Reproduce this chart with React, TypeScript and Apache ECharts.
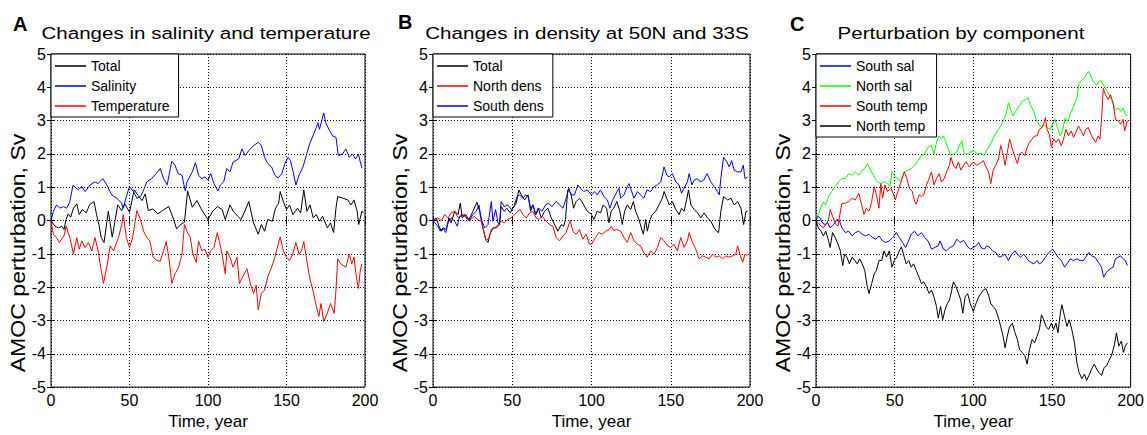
import React, { useEffect, useRef } from "react";
import * as echarts from "echarts";

type Pt = [number, number];

// ---------- Panel A: Changes in salinity and temperature ----------
const aTotal: Pt[] = [[0,0],[2.5,-0.17],[4.7,-0.22],[6.8,-0.17],[8.3,-0.27],[9.6,0.03],[11,0.2],[12.5,0.1],[14.3,0.37],[16.4,0.5],[18,0.18],[20,0.33],[22.5,0.23],[24.5,0.47],[27.4,0.57],[29,0.18],[30.5,-0.12],[32,-0.51],[33.8,-0.66],[36.5,0.28],[39,-0.5],[42.5,0.47],[45,0.3],[47,0.5],[50,0.25],[53,0.92],[56,0.72],[58,0.6],[60,0.8],[62,0.3],[65,0.35],[68,0.2],[71,0.3],[75,0.42],[78,0.05],[80,-0.25],[83,-0.1],[85,-0.05],[87,0.89],[90,0.4],[93,0.6],[95.4,0.37],[100,0.03],[103,0.28],[106,0.42],[109,0.33],[111,0.03],[114,0.47],[116,0.28],[121,0.03],[123,0.23],[126,0.57],[129,-0.07],[132,-0.41],[134,-0.12],[136,-0.32],[138,0.03],[141,-0.02],[143,0.37],[145,0.52],[146,0.87],[148,0.57],[150,0.33],[152,0.47],[154,0.18],[157,0.37],[159,0.23],[161,0.92],[163,0.28],[165,0.47],[167,0.08],[169,0.18],[171,-0.02],[173,0.13],[176,-0.22],[178,-0.07],[180,-0.36],[181.5,0.37],[182.6,0.72],[186,0.67],[189,0.62],[191,0.47],[193,0.62],[195,0.28],[196,-0.12],[198,0.28],[199,0.23]];
const aSalinity: Pt[] = [[0,0],[1.5,0.28],[3.6,0.47],[5.7,0.37],[7.9,0.42],[10,0.37],[12,0.57],[14,1.06],[17.4,0.92],[19.6,1.02],[21.7,0.87],[25,1.07],[28,1.16],[30,1.11],[33,1.26],[35.5,1.07],[38.7,0.77],[42,0.67],[45,0.52],[46,0.37],[48,0.72],[50,1.02],[52.5,0.87],[54.7,0.67],[57,0.72],[59,0.92],[61,1.16],[64,1.26],[67,1.41],[69.6,1.56],[71.7,1.26],[74,1.07],[76,1.56],[77,1.78],[79,1.66],[81,1.41],[83.4,1.36],[85.5,0.89],[86.6,1.16],[90,1.46],[92,1.74],[94,1.36],[96,1.26],[98,1.31],[100,1.21],[101.7,1.41],[103.8,1.11],[106.3,0.89],[108,1.07],[110,1.16],[112,1.56],[114,1.46],[116,1.76],[119.5,1.85],[121.6,2.15],[123.7,1.95],[126,2.1],[129,2.25],[132,2.35],[134,2.25],[136,1.9],[138,1.71],[140.5,1.61],[142.6,1.36],[144.7,1.28],[147,1.41],[149,1.71],[151,1.9],[152.5,1.8],[154,1.51],[156,1.07],[158,1.36],[160.5,1.61],[162.6,1.95],[164.7,2.3],[166.8,2.54],[169,2.79],[170,2.94],[171,2.74],[172.7,3.04],[173.7,3.23],[175,2.94],[177,2.74],[179.4,2.54],[181.5,2.5],[183,1.95],[185.7,2.0],[187.8,2.15],[190,1.9],[192,2.0],[194,1.85],[195.8,2.0],[197,1.76],[198,1.58]];
const aTemperature: Pt[] = [[0,0],[1.5,-0.41],[3.6,-0.51],[5.3,-0.66],[6.8,-0.56],[8.3,-0.46],[9.6,-0.17],[12,-0.51],[14.3,-1.01],[16.4,-0.51],[18,-0.86],[19.6,-0.61],[21.7,-0.81],[23.8,-0.66],[26,-0.91],[28,-0.51],[30,-0.91],[32,-1.5],[33.4,-1.89],[35.5,-1.4],[37.7,-0.76],[39.8,-0.91],[43,-0.51],[45,-0.12],[46,0.18],[48,-0.51],[50,-0.81],[52,-0.51],[54.7,0.3],[57,0.03],[59,-0.32],[61,-0.51],[63,-0.61],[65,-1.1],[67.4,-1.2],[69.6,-1.22],[71.7,-0.91],[73.4,-0.63],[75,-1.1],[77,-1.89],[79,-1.6],[81.3,-1.4],[83.4,-1.01],[85,-0.12],[86.6,-0.32],[88.7,-0.51],[90.4,-1.01],[92.5,-1.25],[94,-0.61],[96,-0.91],[98,-0.86],[100,-1.1],[101.7,-0.91],[103.8,-0.81],[105.9,-0.36],[107.6,-0.71],[109,-1.01],[111,-1.6],[112,-0.91],[114,-1.1],[116,-1.4],[118.5,-1.1],[120,-1.89],[122,-1.7],[124.8,-1.45],[127,-1.89],[129,-2.19],[130.7,-1.94],[132,-2.68],[134,-2.19],[136,-2.09],[138,-1.7],[140.5,-1.4],[142.6,-1.1],[144.7,-0.71],[146,-0.49],[148,-0.91],[150,-1.1],[152,-1.2],[154,-1.01],[156,-0.66],[158,-1.01],[159.5,-0.91],[161,-0.63],[162.6,-1.1],[164.7,-1.7],[166.8,-2.09],[169,-2.58],[170.6,-2.88],[172,-2.49],[173.7,-3.03],[176,-2.78],[178,-2.49],[180.4,-2.78],[181.5,-2.09],[182.6,-1.15],[184.7,-1.3],[187.8,-1.4],[190,-1.01],[191.6,-1.3],[193,-1.1],[194.5,-1.7],[195.8,-2.04],[197,-1.5],[198,-1.3]];

// ---------- Panel B: Changes in density at 50N and 33S ----------
const bTotal: Pt[] = [[0,0],[2,0.08],[3.8,-0.17],[5.3,-0.32],[6.7,-0.22],[8.4,-0.27],[10,0.08],[11.5,-0.07],[13.7,0.28],[15.8,0.18],[17.2,0.52],[18.5,0.08],[20.6,0.18],[22.7,0.03],[25.2,0.28],[27.7,0.55],[29.4,0.28],[31,-0.12],[33.2,-0.56],[34.7,-0.66],[36,-0.41],[37.8,-0.22],[40,-0.22],[42,-0.12],[43,0.42],[45,0.28],[46.6,0.37],[48.7,0.23],[50.4,0.37],[52.5,0.52],[54.2,0.92],[55.7,0.77],[57.8,0.62],[60,0.77],[61.6,0.28],[63,0.47],[64.7,0.18],[66.4,0.37],[68.3,0.08],[70.4,0.28],[72.5,0.37],[74.6,0.08],[76.7,-0.12],[78.8,-0.32],[80.9,-0.12],[82.4,-0.17],[83.6,0.03],[85,0.92],[87,0.82],[88.7,0.37],[90.3,0.57],[92.4,0.67],[93.5,0.6],[95.1,0.47],[97.3,0.28],[100,0.18],[101.5,0.03],[103.6,0.28],[105.7,0.23],[107.4,0.47],[109.5,0.37],[111,-0.07],[112.4,0.28],[114,0.37],[116,0.57],[117.9,0.28],[119.4,-0.12],[120.9,0.28],[122.6,0.47],[124.7,0.33],[126.4,0.57],[127.8,0.28],[130,0.03],[131.4,-0.22],[132.7,-0.41],[134.2,0.03],[135.2,-0.32],[136.9,0.03],[138.4,0.18],[140.5,0.28],[142.6,0.47],[144.7,0.67],[145.8,0.87],[147.5,0.67],[149,0.47],[151,0.57],[153.2,0.33],[155.3,0.18],[156.8,0.37],[158.4,0.28],[160,0.62],[161.2,0.92],[162.7,0.47],[164.8,0.33],[166.9,0.23],[169,0.08],[171,0.23],[173.2,0.08],[175.3,-0.02],[177.4,-0.22],[179,-0.32],[180.2,-0.36],[181.6,0.28],[183.3,0.72],[185.9,0.62],[188,0.67],[190,0.47],[192.2,0.57],[194.3,0.37],[196,-0.12],[197.5,0.28],[198.5,0.28]];
const bNorthDens: Pt[] = [[0,0],[3,0.08],[5.3,0],[7.4,0.18],[9.5,0.08],[11.5,0.23],[13.7,0.28],[15.8,0.08],[17.9,0.13],[20,0.18],[22,0.03],[24,0.03],[26,0.13],[28,0.03],[30.5,-0.02],[32,-0.32],[33.6,-0.61],[35.3,-0.51],[36.8,-0.27],[38.9,-0.22],[41,-0.12],[43,-0.02],[45,-0.07],[47,0.03],[49.4,0.08],[51.5,0.18],[53.6,0.28],[55,0.33],[56.7,0.18],[58.8,0.08],[61,0.23],[63,0.28],[65,0.08],[67,0.03],[69,0.13],[71.4,-0.02],[73.5,-0.12],[75.6,-0.17],[77.7,-0.51],[79.8,-0.61],[82,-0.46],[84,-0.36],[86.6,0],[88.2,-0.32],[90.3,-0.41],[92.4,-0.27],[94.5,-0.56],[96.6,-0.41],[98.7,-0.71],[100,-0.71],[102.5,-0.51],[104.6,-0.36],[106.8,-0.41],[108.9,-0.32],[111,-0.27],[112.4,-0.17],[114,-0.3],[116,-0.27],[118.4,-0.32],[120.5,-0.51],[122.6,-0.66],[124.7,-0.36],[126.8,-0.61],[129,-0.71],[131,-0.76],[133,-0.96],[135.2,-1.1],[137.3,-0.91],[139.5,-1.01],[141.6,-0.81],[143.7,-0.51],[145.8,-0.61],[148,-0.76],[150,-0.81],[152,-0.71],[154.2,-0.91],[156.3,-0.51],[158.4,-0.81],[160.5,-0.61],[161.6,-0.36],[163.7,-0.66],[165.8,-0.86],[167.9,-1.15],[170,-1.06],[172,-1.1],[174.3,-1.15],[176.4,-1.01],[178.5,-1.1],[180.6,-1.06],[182.7,-1.15],[184.8,-1.06],[186.9,-1.1],[189,-1.06],[191,-1.01],[192.2,-0.76],[193.9,-1.06],[195.4,-1.25],[196.8,-1.01],[198.5,-1.06]];
const bSouthDens: Pt[] = [[0,0],[3,-0.17],[4.6,-0.32],[6.3,-0.22],[8,-0.36],[9.5,-0.07],[11.5,0.08],[13.7,-0.02],[15.3,-0.17],[16.8,0.13],[19,0.18],[21,0.08],[23,-0.02],[25,0.18],[27.3,0.28],[29,0.47],[30.5,0.03],[32.6,-0.22],[34.7,-0.12],[36.8,0.57],[37.8,-0.02],[39.5,0.33],[41,-0.07],[42,-0.12],[43,0.57],[45,0.42],[47,0.47],[49.4,0.33],[51,0.42],[53,0.72],[54.6,0.77],[56.7,0.67],[58.4,0.77],[60,0.72],[61.6,0.37],[63,0.47],[65,0.18],[66.8,0.37],[68.9,0.28],[71,0.47],[73,0.52],[75,0.42],[77.7,0.57],[79.8,0.47],[82,0.37],[84,0.67],[85.7,0.97],[87,0.77],[89.3,0.77],[91.4,1.07],[93,0.97],[95.1,0.87],[97.3,0.92],[100,0.77],[101.9,0.87],[103.6,0.77],[105.7,0.92],[107.8,0.72],[110,0.62],[111.6,0.37],[113,0.57],[115,0.77],[117.3,0.97],[118.4,0.67],[120.5,0.77],[122.6,1.02],[123.6,1.11],[125,0.92],[126.8,0.67],[129,0.87],[131,0.77],[133,0.67],[135,0.92],[137.3,0.87],[139.5,1.02],[141.5,1.07],[143.7,1.16],[145.8,1.61],[147.5,1.36],[149,1.31],[151,1.41],[153.2,1.16],[155.3,1.07],[156.8,0.82],[158.4,0.97],[160.5,1.16],[161.6,1.41],[163.3,1.07],[164.8,1.21],[166.9,1.26],[168.6,1.16],[170.7,1.21],[173,1.41],[175.3,1.16],[177.4,1.02],[179.5,0.87],[180.6,0.77],[181.6,1.26],[183.3,1.9],[185.4,1.76],[186.9,1.61],[188.4,1.8],[190,1.51],[192.2,1.46],[194.3,1.46],[195.8,1.66],[196.8,1.26],[198.5,1.31]];

// ---------- Panel C: Perturbation by component ----------
const cSouthSal: Pt[] = [[0,0],[1.2,0.13],[2.6,0.08],[4,-0.07],[5.8,-0.12],[7.5,-0.07],[9,-0.22],[11.2,-0.12],[13.3,0.03],[14.8,0],[16.5,-0.22],[18.7,-0.36],[20.8,-0.32],[23,-0.46],[25,-0.36],[27.2,-0.32],[29.4,-0.41],[31.5,-0.46],[33.7,-0.41],[35.8,-0.51],[38,-0.56],[40,-0.46],[42.3,-0.61],[44.4,-0.66],[46.6,-0.61],[48.7,-0.51],[50.9,-0.36],[53,-0.51],[55,-0.66],[56.9,-0.81],[58.4,-0.66],[60.5,-0.41],[62.7,-0.32],[64.8,-0.46],[67,-0.36],[69,-0.51],[71.2,-0.61],[73.4,-0.86],[75.5,-0.81],[77.7,-0.76],[78.8,-0.61],[81,-0.86],[83,-0.91],[85.2,-0.81],[87.3,-0.76],[89.5,-0.56],[91.6,-0.66],[93.8,-0.59],[96,-0.76],[98,-0.86],[100,-0.81],[101.7,-0.76],[103.4,-0.66],[104.8,-0.81],[107,-0.86],[108.4,-0.76],[110.5,-0.81],[112.2,-0.91],[114.3,-0.96],[116.4,-1.1],[118.5,-1.06],[120.2,-1.01],[122.3,-1.2],[124.4,-1.01],[126.5,-0.91],[128,-1.01],[130,-1.1],[132.1,-1.01],[134.2,-1.15],[136.3,-1.25],[138.4,-1.3],[140.5,-1.2],[142,-1.3],[143.7,-1.25],[145.8,-1.1],[147.9,-0.96],[150.4,-0.86],[152,-0.96],[153.8,-1.1],[155.9,-1.2],[158,-1.4],[159.5,-1.3],[161.6,-1.15],[163.7,-1.2],[165.8,-1.15],[167.9,-1.2],[170,-1.2],[172,-1.06],[173.5,-0.96],[175.2,-1.06],[177.3,-1.1],[179.4,-1.25],[181.5,-1.4],[182.8,-1.7],[184.7,-1.55],[186.8,-1.45],[188.9,-1.4],[190.3,-1.15],[192,-1.1],[193.7,-1.06],[195.2,-1.15],[196.6,-1.2],[197.9,-1.35]];
const cNorthSal: Pt[] = [[0,0.08],[1.5,0.18],[2.6,0.33],[4.7,0.57],[6.2,0.47],[8,0.72],[10,0.87],[12.2,1.02],[14.4,1.16],[16.5,1.26],[18.7,1.26],[20.8,1.41],[23,1.36],[25,1.46],[27.2,1.36],[29.4,1.51],[31,1.56],[32.6,1.71],[34.8,1.51],[37,1.31],[39,1.16],[41.2,1.11],[43.3,1.16],[45.5,1.11],[47,1.02],[48.3,1.46],[49.8,1.36],[52,1.26],[54,1.16],[56,1.46],[58.4,1.51],[60.5,1.56],[62.7,1.66],[64.8,1.8],[67,1.95],[69,2.0],[71.2,2.2],[73.4,2.25],[75,2.0],[76.6,2.35],[78.3,2.54],[79.8,2.45],[81,2.54],[82.6,2.35],[84,2.15],[85.6,1.95],[87.3,2.0],[89.5,2.05],[91.2,2.25],[92.7,2.4],[94.2,2.0],[96,2.0],[98,2.05],[100,2.1],[102.7,2.0],[104.8,2.02],[107,1.95],[109,2.15],[111,2.3],[113.2,2.54],[115.3,2.69],[117.4,2.84],[119.5,3.04],[121,3.23],[122.3,3.53],[123.7,3.33],[125.2,3.14],[126.9,3.28],[129,3.43],[131,3.58],[133.2,3.63],[134.9,3.68],[136.3,3.48],[138.4,3.28],[139.9,3.04],[141.6,2.89],[143.3,2.79],[144.7,2.89],[146.8,2.79],[148.9,2.74],[150.4,2.89],[152,3.04],[153.8,2.74],[155.3,2.54],[156.7,2.69],[158.4,3.09],[160,2.99],[161.6,3.19],[163.7,3.43],[165.8,3.68],[167.2,4.12],[169,4.22],[170.6,4.27],[172,4.42],[173.5,4.47],[174.8,4.32],[176.3,4.17],[178.4,4.07],[179.8,4.17],[181,4.22],[182.6,4.07],[184,3.97],[185.7,3.83],[187.4,3.68],[188.9,3.48],[190.3,3.33],[192,3.38],[193.7,3.28],[195.2,3.38],[196.2,3.23],[197.9,3.14]];
const cSouthTemp: Pt[] = [[0,0],[1.5,-0.07],[3.2,-0.17],[4.7,-0.22],[6.2,-0.12],[8,0.03],[9,0.33],[10.5,0.13],[12.2,-0.07],[14,-0.17],[15.5,0.28],[16.5,0.52],[18.7,0.52],[20.8,0.57],[23,0.67],[25,0.62],[27.2,0.82],[29,0.47],[30.5,0.18],[32,0.37],[33.7,0.28],[35.4,0.57],[37,1.02],[38.4,0.77],[40,0.37],[41.2,1.11],[42.3,0.67],[43.8,1.07],[45.5,0.87],[47.6,0.97],[49,0.82],[50.4,0.62],[52,0.87],[54,1.16],[56.2,1.46],[57.7,1.26],[59.4,0.97],[61.2,0.87],[62.7,0.57],[63.7,0.49],[65.5,0.77],[67,0.72],[68.5,0.77],[70.2,1.07],[71.9,1.26],[73.4,1.46],[75,1.07],[76.6,1.26],[78.3,1.41],[79.8,1.16],[81.5,1.26],[83,1.46],[84.8,1.66],[85.8,1.9],[87.3,1.66],[89,1.56],[90.6,1.76],[92,1.51],[93.8,1.66],[95.4,1.76],[97.5,1.61],[100,1.76],[102,1.66],[104.2,1.71],[106.3,1.8],[108,1.61],[109.7,1.46],[111.1,1.11],[112.6,1.51],[114.3,1.66],[116,1.85],[117.4,2.25],[118.9,2.0],[120.2,1.66],[121.6,2.05],[123.1,2.45],[124.8,2.15],[126.5,1.9],[128,1.71],[129.4,2.0],[131,2.05],[132.8,1.95],[134.2,2.2],[135.7,2.35],[137.4,2.45],[139,2.54],[140.5,2.54],[142,2.74],[143.7,2.79],[145,2.94],[145.8,3.09],[146.8,2.74],[148.3,2.59],[149.6,2.2],[151,2.45],[152.5,2.35],[154.2,2.45],[155.9,2.25],[157.4,2.45],[158.8,2.74],[160.5,2.54],[162.2,2.69],[163.7,2.5],[165.1,2.64],[166.8,2.84],[168.5,2.69],[170,2.54],[171.4,2.74],[173.1,2.79],[174.8,2.59],[176.3,2.45],[177.7,2.35],[179.4,2.54],[180.5,2.45],[181.5,3.04],[182.6,3.97],[184,3.78],[185.7,3.63],[187.2,3.78],[188.9,3.53],[190.3,3.04],[192,2.99],[193.7,2.89],[195.2,3.04],[196.2,2.69],[197.9,2.99]];
const cNorthTemp: Pt[] = [[0,0],[1.5,-0.22],[3.2,-0.32],[4.7,-0.46],[6.2,-0.32],[8,-0.61],[9,-0.81],[10.5,-0.36],[12.2,-0.51],[14,-0.71],[15.5,-0.91],[17,-1.35],[18.2,-1.01],[19.7,-1.1],[21.2,-1.3],[23,-1.1],[24.7,-1.2],[26.2,-1.3],[27.7,-1.15],[29.4,-1.3],[31,-1.5],[32.6,-1.99],[33.7,-2.19],[35.4,-1.89],[37,-1.6],[38.4,-1.5],[40,-1.2],[41.8,-1.2],[43.3,-0.91],[44.8,-1.1],[46.6,-0.91],[48.3,-1.4],[49.8,-1.2],[51.3,-1.1],[53,-0.91],[54.3,-0.79],[55.6,-1.01],[57.3,-1.3],[59,-1.2],[60.5,-1.4],[62,-1.3],[63.7,-1.5],[65.5,-1.7],[67,-1.89],[68.5,-1.84],[70.2,-1.99],[71.9,-2.19],[73.4,-2.09],[75,-2.29],[76.6,-2.58],[77.7,-2.93],[79.2,-2.58],[80.5,-2.98],[82,-2.68],[83.5,-2.49],[84.8,-2.39],[86.3,-2.09],[87.3,-1.84],[89,-1.99],[90.6,-2.19],[92,-2.39],[93.3,-2.78],[94.8,-2.29],[96.4,-2.19],[98,-2.49],[100,-2.73],[101.7,-2.49],[103.4,-2.29],[104.8,-2.19],[106.3,-2.09],[108,-2.04],[109.7,-2.24],[111.1,-2.49],[112.6,-2.58],[114.3,-2.68],[116,-2.93],[117.4,-3.18],[118.9,-3.47],[120.2,-3.82],[121.6,-3.47],[123.1,-3.18],[124.8,-3.08],[126.5,-3.37],[128,-3.57],[129.4,-3.87],[131,-3.96],[132.8,-4.06],[134.2,-4.31],[135.7,-3.87],[137.4,-3.57],[139,-3.67],[140.5,-3.47],[142,-3.27],[143.3,-2.83],[144.7,-2.98],[146.2,-3.18],[147.9,-3.27],[149.6,-3.08],[151,-3.27],[152.5,-3.08],[153.8,-3.37],[155.3,-2.78],[156.3,-2.53],[158,-2.88],[159.5,-3.18],[161,-2.98],[162.6,-3.27],[164.3,-3.67],[165.8,-4.26],[167.2,-4.56],[169,-4.75],[170.6,-4.61],[172,-4.8],[173.5,-4.65],[175.2,-4.46],[176.9,-4.31],[178.4,-4.46],[179.8,-4.56],[181.5,-4.65],[183.2,-4.41],[184.7,-4.36],[186.1,-4.21],[187.8,-4.06],[189.5,-3.77],[191,-3.37],[192.4,-3.77],[194.1,-3.62],[195.4,-3.96],[196.6,-3.77],[197.9,-3.67]];

const panelLetters = ["A", "B", "C"];
const panelTitles = [
  "Changes in salinity and temperature",
  "Changes in density at 50N and 33S",
  "Perturbation by component",
];
const yAxisTitle = "AMOC perturbation, Sv";
const xAxisTitle = "Time, year";

const panelSeries: { name: string; color: string; data: Pt[] }[][] = [
  [
    { name: "Total", color: "#000000", data: aTotal },
    { name: "Salinity", color: "#0000ff", data: aSalinity },
    { name: "Temperature", color: "#ff0000", data: aTemperature },
  ],
  [
    { name: "Total", color: "#000000", data: bTotal },
    { name: "North dens", color: "#ff0000", data: bNorthDens },
    { name: "South dens", color: "#0000ff", data: bSouthDens },
  ],
  [
    { name: "South sal", color: "#0000ff", data: cSouthSal },
    { name: "North sal", color: "#00ff00", data: cNorthSal },
    { name: "South temp", color: "#ff0000", data: cSouthTemp },
    { name: "North temp", color: "#000000", data: cNorthTemp },
  ],
];

const FONT = '"Liberation Sans", Arial, Helvetica, sans-serif';

const GRIDS = [
  { left: 51, top: 54, width: 314, height: 338 },
  { left: 433, top: 54, width: 317, height: 338 },
  { left: 816, top: 54, width: 315, height: 338 },
];
const LETTER_POS = [
  [13, 24],
  [398, 22],
  [790, 24],
];
const TITLE_X = [206, 587, 961];

export default function App() {
  const ref = useRef<HTMLDivElement>(null);

  useEffect(() => {
    if (!ref.current) return;
    const chart = echarts.init(ref.current, undefined, { renderer: "svg" });

    const tickStyle = { show: true, inside: true, length: 4, lineStyle: { color: "#000", width: 1 } };
    const xAxis: any[] = [];
    const yAxis: any[] = [];
    const series: any[] = [];
    const legend: any[] = [];
    const graphic: any[] = [];

    GRIDS.forEach((g, i) => {
      xAxis.push({
        type: "value", gridIndex: i, position: "bottom", min: 0, max: 200, interval: 50,
        axisLine: { show: false }, axisTick: tickStyle,
        axisLabel: { margin: 5, fontSize: 16, color: "#000", fontFamily: FONT },
        splitLine: { show: true, lineStyle: { color: "#000", type: [1, 2], width: 1 } },
        name: xAxisTitle, nameLocation: "middle", nameGap: 23,
        nameTextStyle: { fontSize: 17, color: "#000", fontFamily: FONT },
      });
      xAxis.push({
        type: "value", gridIndex: i, position: "top", min: 0, max: 200, interval: 50,
        axisLine: { show: false }, axisTick: tickStyle, axisLabel: { show: false }, splitLine: { show: false },
      });
      yAxis.push({
        type: "value", gridIndex: i, position: "left", min: -5, max: 5, interval: 1,
        axisLine: { show: false }, axisTick: tickStyle,
        axisLabel: { margin: 5, fontSize: 16, color: "#000", fontFamily: FONT },
        splitLine: { show: true, lineStyle: { color: "#000", type: [1, 2], width: 1 } },
      });
      yAxis.push({
        type: "value", gridIndex: i, position: "right", min: -5, max: 5, interval: 1,
        axisLine: { show: false }, axisTick: tickStyle, axisLabel: { show: false }, splitLine: { show: false },
      });

      panelSeries[i].forEach((s) => {
        series.push({
          type: "line", name: s.name, xAxisIndex: 2 * i, yAxisIndex: 2 * i,
          data: s.data, showSymbol: false, symbol: "none", color: s.color,
          lineStyle: { color: s.color, width: 1 }, z: 3,
        });
      });

      legend.push({
        left: g.left, top: g.top, orient: "vertical",
        data: panelSeries[i].map((s) => s.name),
        icon: "rect", itemWidth: 31, itemHeight: 1.5, itemGap: 6,
        padding: [5, 9, 4, 4],
        backgroundColor: "#fff", borderColor: "#000", borderWidth: 1, borderRadius: 0,
        textStyle: { fontSize: 14, color: "#000", fontFamily: FONT },
        selectedMode: false, z: 10,
      });

      graphic.push({
        type: "text", x: LETTER_POS[i][0], y: LETTER_POS[i][1],
        style: { text: panelLetters[i], font: `bold 20px ${FONT}`, fill: "#000", textAlign: "left", textVerticalAlign: "middle" },
      });
      graphic.push({
        type: "text", x: TITLE_X[i], y: 33, scaleX: 1.21,
        style: { text: panelTitles[i], font: `17px ${FONT}`, fill: "#000", textAlign: "center", textVerticalAlign: "middle" },
      });
      graphic.push({
        type: "text", x: g.left - 33, y: 253, rotation: Math.PI / 2, scaleX: 1.1,
        style: { text: yAxisTitle, font: `21px ${FONT}`, fill: "#000", textAlign: "center", textVerticalAlign: "middle" },
      });
    });

    chart.setOption({
      animation: false,
      backgroundColor: "#fff",
      textStyle: { fontFamily: FONT },
      grid: GRIDS.map((g) => ({ ...g, show: true, borderColor: "#000", borderWidth: 1, backgroundColor: "#fff", containLabel: false })),
      xAxis, yAxis, series, legend, graphic,
    });

    return () => chart.dispose();
  }, []);

  return (
    <div
      ref={ref}
      style={{ position: "fixed", left: 0, top: 0, width: 1147, height: 435, background: "#fff" }}
    />
  );
}
